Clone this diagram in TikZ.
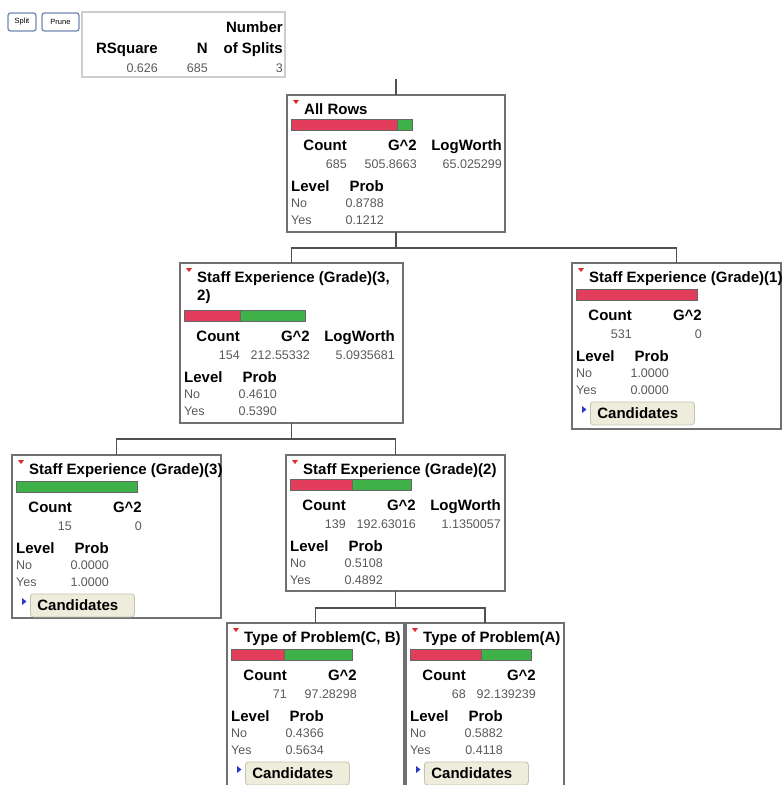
\documentclass[tikz,border=0pt]{standalone}
\usepackage{fontspec}
\setmainfont{Liberation Sans}
\definecolor{barred}{RGB}{226,62,92}
\definecolor{bargreen}{RGB}{62,178,72}
\definecolor{boxline}{RGB}{112,112,112}
\definecolor{connline}{RGB}{80,80,80}
\definecolor{valgray}{RGB}{90,90,90}
\definecolor{candfill}{RGB}{238,236,218}
\definecolor{candline}{RGB}{196,196,178}
\definecolor{btnline}{RGB}{115,135,180}
\definecolor{summline}{RGB}{205,205,205}
\definecolor{markred}{RGB}{230,40,40}
\definecolor{markblue}{RGB}{40,60,190}
\tikzset{
  treebox/.style={draw=boxline, line width=1.8pt, fill=white, inner sep=0pt, outer sep=0pt, anchor=north west, rectangle},
  conn/.style={draw=connline, line width=1.4pt},
  hdr/.style={font=\fontsize{15}{15}\selectfont\bfseries, inner sep=0pt},
  val/.style={font=\fontsize{12.5}{12.5}\selectfont, text=valgray, inner sep=0pt},
  ttl/.style={font=\fontsize{15}{15}\selectfont\bfseries, inner sep=0pt, anchor=base west},
  barseg/.style={draw=black!60, line width=0.8pt},
  cand/.style={draw=candline, fill=candfill, rounded corners=3pt, line width=0.8pt,
    font=\fontsize{15}{15}\selectfont\bfseries, text width=90pt, inner xsep=7pt, inner ysep=0pt,
    minimum height=23pt, anchor=north west, align=left},
  btn/.style={draw=btnline, fill=white, rounded corners=2.5pt, line width=1.3pt,
    font=\fontsize{7.5}{8}\selectfont, inner sep=0pt, minimum height=18pt},
}
% title with red marker
\newcommand\boxtitle[2]{%
  \fill[markred] ([shift={(6,5)}]#1.north west) -- ++(6,0) -- ++(-3,4) -- cycle;
  \node[ttl] (#1-t) at ([shift={(17,19)}]#1.north west) {#2};
}
% bars: name, dy, red width (of 121)
\newcommand\bars[3]{%
  \ifnum#3>0
    \filldraw[barseg, fill=barred] ([shift={(4,{24+#2})}]#1.north west) rectangle ++(#3,11);
  \fi
  \ifnum#3<121
    \filldraw[barseg, fill=bargreen] ([shift={({4+#3},{24+#2})}]#1.north west) rectangle ([shift={(125,{35+#2})}]#1.north west);
  \fi
}
% stats: name, dy, count, g2, no, yes
\newcommand\stats[6]{%
  \node[hdr, anchor=base east] (#1-c) at ([shift={(60,{55+#2})}]#1.north west) {Count};
  \node[hdr, anchor=base east] (#1-g) at ([shift={(130,{55+#2})}]#1.north west) {G\textasciicircum 2};
  \node[val, anchor=base east] (#1-cv) at ([shift={(60,{73+#2})}]#1.north west) {#3};
  \node[val, anchor=base east] (#1-gv) at ([shift={(130,{73+#2})}]#1.north west) {#4};
  \node[hdr, anchor=base west] (#1-l) at ([shift={(4,{96.5+#2})}]#1.north west) {Level};
  \node[hdr, anchor=base east] (#1-p) at ([shift={(97,{96.5+#2})}]#1.north west) {Prob};
  \node[val, anchor=base west] (#1-n) at ([shift={(4,{112.5+#2})}]#1.north west) {No};
  \node[val, anchor=base east] (#1-nv) at ([shift={(97,{112.5+#2})}]#1.north west) {#5};
  \node[val, anchor=base west] (#1-y) at ([shift={(4,{129.5+#2})}]#1.north west) {Yes};
  \node[val, anchor=base east] (#1-yv) at ([shift={(97,{129.5+#2})}]#1.north west) {#6};
}
% logworth: name, dy, value
\newcommand\logw[3]{%
  \node[hdr, anchor=base east] (#1-lw) at ([shift={(215,{55+#2})}]#1.north west) {LogWorth};
  \node[val, anchor=base east] (#1-lwv) at ([shift={(215,{73+#2})}]#1.north west) {#3};
}
% candidates button: name
\newcommand\candbtn[1]{%
  \fill[markblue] ([shift={(10,143)}]#1.north west) -- ++(4.5,3.5) -- ++(-4.5,3.5) -- cycle;
  \node[cand] (#1-cand) at ([shift={(18,138.5)}]#1.north west) {Candidates};
}
\begin{document}
\begin{tikzpicture}[x=1pt, y=-1pt]
\useasboundingbox (0,0) rectangle (782,785);
\clip (0,0) rectangle (782,785);

% buttons
\node[btn, minimum width=28pt] (split) at (22,22) {Split};
\node[btn, minimum width=37pt] (prune) at (60.5,22) {Prune};

% summary table
\node[draw=summline, line width=1.5pt, fill=white, inner sep=0pt, outer sep=0pt,
  minimum width=203pt, minimum height=65pt, anchor=north west] (summ) at (82,12) {};
\node[hdr, anchor=base east] (sum-num) at ([shift={(201,20)}]summ.north west) {Number};
\node[hdr, anchor=base east] (sum-rsq) at ([shift={(76,41)}]summ.north west) {RSquare};
\node[hdr, anchor=base east] (sum-n) at ([shift={(126,41)}]summ.north west) {N};
\node[hdr, anchor=base east] (sum-ns) at ([shift={(201,41)}]summ.north west) {of Splits};
\node[val, anchor=base east] (sum-rsqv) at ([shift={(76,60)}]summ.north west) {0.626};
\node[val, anchor=base east] (sum-nv) at ([shift={(126,60)}]summ.north west) {685};
\node[val, anchor=base east] (sum-nsv) at ([shift={(201,60)}]summ.north west) {3};

% tree boxes
\node[treebox, minimum width=218pt, minimum height=137pt] (root) at (287,95) {};
\node[treebox, minimum width=223pt, minimum height=160pt] (lc) at (180,263) {};
\node[treebox, minimum width=209pt, minimum height=166pt] (rc) at (572,263) {};
\node[treebox, minimum width=209pt, minimum height=163pt] (lgc) at (12,455) {};
\node[treebox, minimum width=219pt, minimum height=136pt] (mgc) at (286,455) {};
\node[treebox, minimum width=177pt, minimum height=190pt] (cb) at (227,623) {};
\node[treebox, minimum width=158pt, minimum height=190pt] (pa) at (406,623) {};

% connectors
\coordinate (rootin) at (396,79);
\draw[conn] (rootin) -- (root.north);
\draw[conn] (root.south) -- ++(0,16) -| (lc.north);
\draw[conn] (root.south) -- ++(0,16) -| (rc.north);
\draw[conn] (lc.south) -- ++(0,16) -| (lgc.north);
\draw[conn] (lc.south) -- ++(0,16) -| (mgc.north);
\draw[conn] (mgc.south) -- ++(0,17) -| (cb.north);
\draw[conn] (mgc.south) -- ++(0,17) -| (pa.north);

% root
\boxtitle{root}{All Rows}
\bars{root}{0}{106}
\stats{root}{0}{685}{505.8663}{0.8788}{0.1212}
\logw{root}{0}{65.025299}

% left child
\boxtitle{lc}{Staff Experience (Grade)(3,}
\node[ttl] (lc-t2) at ([shift={(17,37)}]lc.north west) {2)};
\bars{lc}{23}{56}
\stats{lc}{23}{154}{212.55332}{0.4610}{0.5390}
\logw{lc}{23}{5.0935681}

% right child
\boxtitle{rc}{Staff Experience (Grade)(1)}
\bars{rc}{2}{121}
\stats{rc}{2}{531}{0}{1.0000}{0.0000}
\candbtn{rc}

% left grandchild
\boxtitle{lgc}{Staff Experience (Grade)(3)}
\bars{lgc}{2}{0}
\stats{lgc}{2}{15}{0}{0.0000}{1.0000}
\candbtn{lgc}

% middle grandchild
\boxtitle{mgc}{Staff Experience (Grade)(2)}
\bars{mgc}{0}{62}
\stats{mgc}{0}{139}{192.63016}{0.5108}{0.4892}
\logw{mgc}{0}{1.1350057}

% type of problem (C, B)
\boxtitle{cb}{Type of Problem(C, B)}
\bars{cb}{2}{53}
\stats{cb}{2}{71}{97.28298}{0.4366}{0.5634}
\candbtn{cb}

% type of problem (A)
\boxtitle{pa}{Type of Problem(A)}
\bars{pa}{2}{71}
\stats{pa}{2}{68}{92.139239}{0.5882}{0.4118}
\candbtn{pa}
\end{tikzpicture}
\end{document}
